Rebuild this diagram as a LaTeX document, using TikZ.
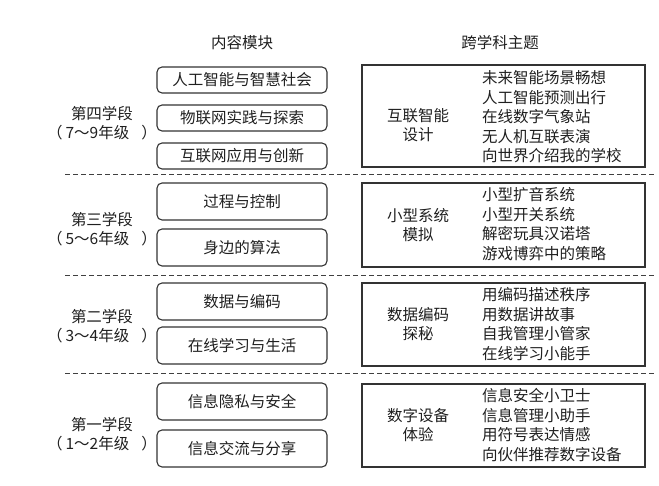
\documentclass[tikz,border=0pt]{standalone}
\usepackage{fontspec}
\setmainfont{Noto Sans CJK SC}
\newcommand{\lpar}{（\hspace{3pt}}
\newcommand{\rpar}{\hspace{12pt}）}
\begin{document}
\begin{tikzpicture}[x=1pt,y=-1pt,
  every node/.style={font=\fontsize{15.5}{19.5}\selectfont, text=black!88, inner sep=0pt},
  modbox/.style={draw=black!80, line width=1.1pt, rounded corners=5pt, minimum width=170pt},
  thmbox/.style={draw=black!80, line width=1.1pt, minimum width=283pt},
  sep/.style={draw=black!75, line width=1pt, dash pattern=on 5pt off 3pt},
  stage/.style={align=center},
  lst/.style={align=left, anchor=west},
  lbl/.style={align=center}]
\useasboundingbox (0,0) rectangle (659,486);
\node (h1) at (242,43) {内容模块};
\node (h2) at (500,43) {跨学科主题};
% section 4
\node[modbox, minimum height=26pt] (m1) at (242,80) {人工智能与智慧社会};
\node[modbox, minimum height=26pt] (m2) at (242,118) {物联网实践与探索};
\node[modbox, minimum height=26pt] (m3) at (242,156) {互联网应用与创新};
\node[stage] (s4) at (102,123) {第四学段\\\lpar 7～9年级\rpar};
\node[thmbox, minimum height=102pt] (t4) at (503.5,116) {};
\node[lbl] (l4) at (418,125) {互联智能\\设计};
\node[lst] (r4) at (482,117) {未来智能场景畅想\\人工智能预测出行\\在线数字气象站\\无人机互联表演\\向世界介绍我的学校};
\coordinate (d1a) at (65,175); \coordinate (d1b) at (655,175);
\draw[sep] (d1a) -- (d1b);
% section 3
\node[modbox, minimum height=37pt] (m4) at (242,201.5) {过程与控制};
\node[modbox, minimum height=37pt] (m5) at (242,247.5) {身边的算法};
\node[stage] (s3) at (102,229) {第三学段\\\lpar 5～6年级\rpar};
\node[thmbox, minimum height=84pt] (t3) at (503.5,225) {};
\node[lbl] (l3) at (418,225) {小型系统\\模拟};
\node[lst] (r3) at (482,224) {小型扩音系统\\小型开关系统\\解密玩具汉诺塔\\游戏博弈中的策略};
\coordinate (d2a) at (65,276); \coordinate (d2b) at (655,276);
\draw[sep] (d2a) -- (d2b);
% section 2
\node[modbox, minimum height=37pt] (m6) at (242,301.5) {数据与编码};
\node[modbox, minimum height=37pt] (m7) at (242,345.5) {在线学习与生活};
\node[stage] (s2) at (102,326) {第二学段\\\lpar 3～4年级\rpar};
\node[thmbox, minimum height=83pt] (t2) at (503.5,324.5) {};
\node[lbl] (l2) at (418,324) {数据编码\\探秘};
\node[lst] (r2) at (482,324) {用编码描述秩序\\用数据讲故事\\自我管理小管家\\在线学习小能手};
\coordinate (d3a) at (65,374); \coordinate (d3b) at (655,374);
\draw[sep] (d3a) -- (d3b);
% section 1
\node[modbox, minimum height=37pt] (m8) at (242,401.5) {信息隐私与安全};
\node[modbox, minimum height=37pt] (m9) at (242,448.5) {信息交流与分享};
\node[stage] (s1) at (102,434) {第一学段\\\lpar 1～2年级\rpar};
\node[thmbox, minimum height=83pt] (t1) at (503.5,425.5) {};
\node[lbl] (l1) at (418,425) {数字设备\\体验};
\node[lst] (r1) at (482,425) {信息安全小卫士\\信息管理小助手\\用符号表达情感\\向伙伴推荐数字设备};
\end{tikzpicture}
\end{document}
